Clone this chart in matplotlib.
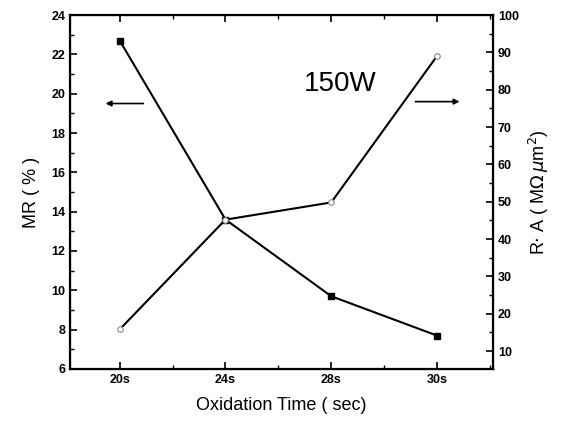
import numpy as np
import matplotlib.pyplot as plt
from matplotlib.ticker import MultipleLocator

plt.rcParams['font.family'] = ['Liberation Sans', 'DejaVu Sans']

times = ['20s', '24s', '28s', '30s']
mr = [22.7, 13.6, 9.7, 7.7]          # MR (%), left axis
ra = [15.8, 45.2, 49.8, 89.0]        # R·A (MOhm um^2), right axis

x = np.arange(len(times))

fig = plt.figure(figsize=(5.61, 4.23), dpi=100)
ax = fig.add_axes([0.1248, 0.1277, 0.754, 0.8368])

ax.plot(x, mr, color='black', lw=1.5, marker='s', ms=5, mfc='black', mec='black')
ax.set_xlim(-0.47, 3.53)
ax.set_ylim(6, 24)
ax.yaxis.set_major_locator(MultipleLocator(2))
ax.yaxis.set_minor_locator(MultipleLocator(1))
ax.set_xticks(x)
ax.set_xticklabels(times)
ax.xaxis.set_minor_locator(MultipleLocator(0.5))
ax.tick_params(axis='x', which='both', top=True, direction='in')
ax.tick_params(axis='y', which='both', direction='in')
ax.tick_params(which='major', length=5, width=1.2, labelsize=9)
ax.tick_params(which='minor', length=3, width=1)
for lab in ax.get_xticklabels() + ax.get_yticklabels():
    lab.set_fontweight('bold')
for s in ax.spines.values():
    s.set_linewidth(1.6)

ax.set_xlabel('Oxidation Time ( sec)', fontsize=13, labelpad=8)
ax.set_ylabel('MR ( % )', fontsize=13, labelpad=8)

ax2 = ax.twinx()
ax2.plot(x, ra, color='black', lw=1.5, marker='o', ms=4, mfc='white', mec='#888888', mew=0.8)
ax2.set_ylim(5.2, 100)
ax2.yaxis.set_major_locator(MultipleLocator(10))
ax2.yaxis.set_minor_locator(MultipleLocator(5))
ax2.tick_params(axis='y', which='both', direction='in')
ax2.tick_params(which='major', length=5, width=1.2, labelsize=9)
ax2.tick_params(which='minor', length=3, width=1)
for lab in ax2.get_yticklabels():
    lab.set_fontweight('bold')
ax2.set_ylabel('R$\\cdot$ A ( M$\\Omega\\,\\mu$m$^2$)', fontsize=13, labelpad=6)

ax.text(2.09, 20.5, '150W', fontsize=20, ha='center', va='center')
ax.annotate('', xy=(-0.16, 19.5), xytext=(0.25, 19.5),
            arrowprops=dict(arrowstyle='-|>', color='black', lw=1.2, mutation_scale=8))
ax2.annotate('', xy=(3.24, 76.8), xytext=(2.77, 76.8),
             arrowprops=dict(arrowstyle='-|>', color='black', lw=1.2, mutation_scale=8))

fig.savefig('out.png', dpi=100)
